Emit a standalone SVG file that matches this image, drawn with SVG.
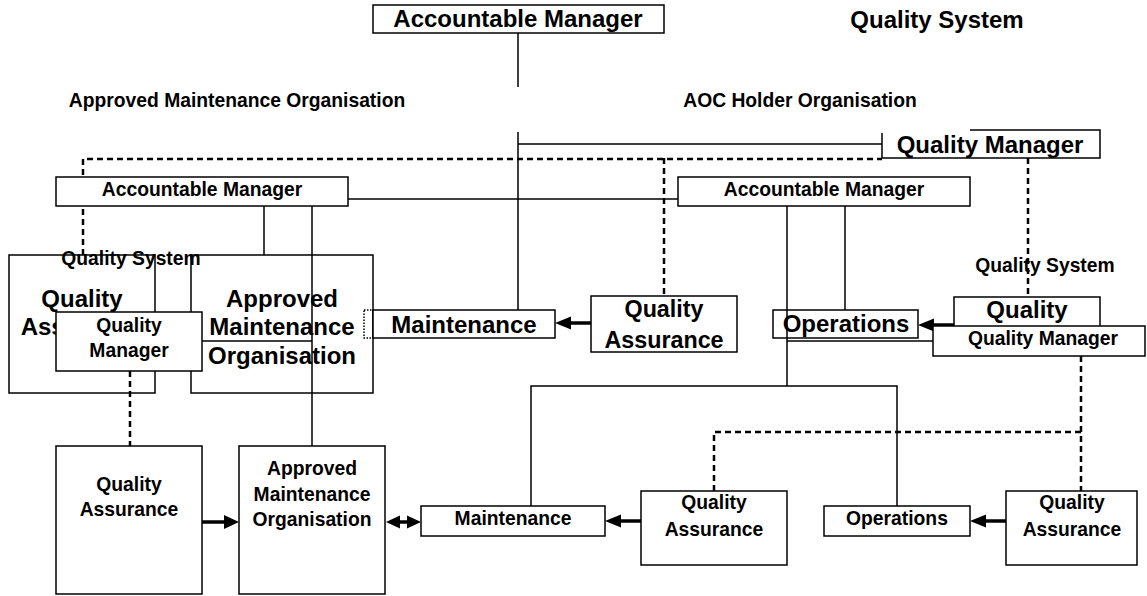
<svg xmlns="http://www.w3.org/2000/svg" width="1147" height="596" viewBox="0 0 1147 596">
<style>
text{font-family:"Liberation Sans",Arial,sans-serif;font-weight:bold;fill:#000;text-anchor:middle}
.s{font-size:19.3px}
.l{font-size:24px}
.m{font-size:23.3px}
.box{fill:#fff;stroke:#000;stroke-width:1.5}
.ln{fill:none;stroke:#000;stroke-width:1.5}
.dash{fill:none;stroke:#000;stroke-width:2.5;stroke-dasharray:6 4}
.dot{fill:none;stroke:#000;stroke-width:1.5;stroke-dasharray:1.5 1.5}
.thick{fill:none;stroke:#000;stroke-width:3.5}
.head{fill:#000}
</style>
<defs>
<clipPath id="qaclip"><rect x="0" y="313" width="56" height="30"/></clipPath>
</defs>
<rect width="1147" height="596" fill="#fff"/>

<g id="labels">
<text class="l" x="937" y="28">Quality System</text>
<text class="s" x="237" y="107">Approved Maintenance Organisation</text>
<text class="s" x="800" y="107">AOC Holder Organisation</text>
</g>

<g id="top-am">
<rect class="box" x="373" y="5" width="291" height="28"/>
<text class="l" x="518" y="27">Accountable Manager</text>
</g>

<g id="connectors-back">
<path class="dash" d="M83,255 V159 H882"/>
<path class="dash" d="M664,158 V296"/>
<path class="dash" d="M1028,158 V297"/>
<path class="ln" d="M518,33 V87 M518,132 V310 M518,144 H882"/>
<path class="ln" d="M348,199 H678"/>
<path class="ln" d="M264,206 V255"/>
<path class="ln" d="M845,206 V310"/>
</g>

<g id="top-qm">
<path fill="#fff" d="M882,133 V158 H1100 V130 H970 V133 Z"/>
<path class="ln" d="M882,133 V158 H1100 V130 H970"/>
<text class="l" x="990" y="153">Quality Manager</text>
</g>

<g id="amo-am">
<rect class="box" x="56" y="177" width="292" height="29"/>
<text class="s" x="202" y="196">Accountable Manager</text>
</g>

<g id="aoc-am">
<rect class="box" x="678" y="177" width="292" height="29"/>
<text class="s" x="824" y="196">Accountable Manager</text>
</g>

<g id="amo-qa">
<rect class="box" x="9" y="255" width="146" height="138"/>
<text class="l" x="82" y="307">Quality</text>
<text class="l" x="82" y="335" clip-path="url(#qaclip)">Assurance</text>
</g>

<g id="amo-amo">
<rect class="box" x="191" y="255" width="182" height="138"/>
<text class="l" x="282" y="307">Approved</text>
<text class="l" x="282" y="335">Maintenance</text>
<text class="l" x="282" y="364">Organisation</text>
</g>

<g id="qs-left">
<text class="s" x="131" y="265">Quality System</text>
</g>

<g id="mid-maint">
<rect class="dot" x="364" y="310" width="9" height="28"/>
<rect class="box" x="373" y="310" width="182" height="28"/>
<text class="l" x="464" y="333">Maintenance</text>
</g>

<g id="mid-qa">
<rect class="box" x="591" y="296" width="146" height="56"/>
<text class="m" x="664" y="317">Quality</text>
<text class="m" x="664" y="348">Assurance</text>
</g>

<g id="mid-ops">
<rect class="box" x="773" y="310" width="145" height="28"/>
<text class="l" x="846" y="332">Operations</text>
</g>

<g id="qs-right">
<text class="s" x="1045" y="272">Quality System</text>
</g>

<g id="right-quality">
<rect class="box" x="954" y="297" width="146" height="40"/>
<text class="l" x="1027" y="318">Quality</text>
</g>

<g id="connectors">
<path class="ln" d="M312,206 V446"/>
<path class="ln" d="M202,341 H312"/>
<path class="ln" d="M787,206 V386 M531,506 V386 H897 V506"/>
<path class="ln" d="M787,341 H933"/>
<path class="dash" d="M130,371 V446"/>
<path class="dash" d="M1081,356 V491 M1081,432 H714 V491"/>
<path class="thick" d="M591,323 H569"/>
<polygon class="head" points="555,323 571,316.5 571,329.5"/>
<path class="thick" d="M954,325 H932"/>
<polygon class="head" points="918,325 934,318.5 934,331.5"/>
<path class="thick" d="M202,522 H225"/>
<polygon class="head" points="239,522 224,515 224,529"/>
<path class="thick" d="M398,522 H409"/>
<polygon class="head" points="386,522 400,515.5 400,528.5"/>
<polygon class="head" points="421,522 407,515.5 407,528.5"/>
<path class="thick" d="M641,521 H619"/>
<polygon class="head" points="605,521 621,514.5 621,527.5"/>
<path class="thick" d="M1006,521 H984"/>
<polygon class="head" points="970,521 986,514.5 986,527.5"/>
</g>

<g id="amo-qm">
<rect class="box" x="56" y="312" width="146" height="59"/>
<text class="s" x="129" y="332">Quality</text>
<text class="s" x="129" y="357">Manager</text>
</g>

<g id="aoc-qm">
<rect class="box" x="933" y="326" width="212" height="30"/>
<text class="s" x="1043" y="345">Quality Manager</text>
</g>

<g id="bot-qa-left">
<rect class="box" x="56" y="446" width="146" height="148"/>
<text class="s" x="129" y="491">Quality</text>
<text class="s" x="129" y="516">Assurance</text>
</g>

<g id="bot-amo">
<rect class="box" x="239" y="446" width="146" height="148"/>
<text class="s" x="312" y="475">Approved</text>
<text class="s" x="312" y="501">Maintenance</text>
<text class="s" x="312" y="526">Organisation</text>
</g>

<g id="bot-maint">
<rect class="box" x="421" y="506" width="184" height="30"/>
<text class="s" x="513" y="525">Maintenance</text>
</g>

<g id="bot-qa-mid">
<rect class="box" x="641" y="491" width="146" height="74"/>
<text class="s" x="714" y="509">Quality</text>
<text class="s" x="714" y="536">Assurance</text>
</g>

<g id="bot-ops">
<rect class="box" x="824" y="506" width="146" height="30"/>
<text class="s" x="897" y="525">Operations</text>
</g>

<g id="bot-qa-right">
<rect class="box" x="1006" y="491" width="131" height="74"/>
<text class="s" x="1072" y="509">Quality</text>
<text class="s" x="1072" y="536">Assurance</text>
</g>
</svg>
